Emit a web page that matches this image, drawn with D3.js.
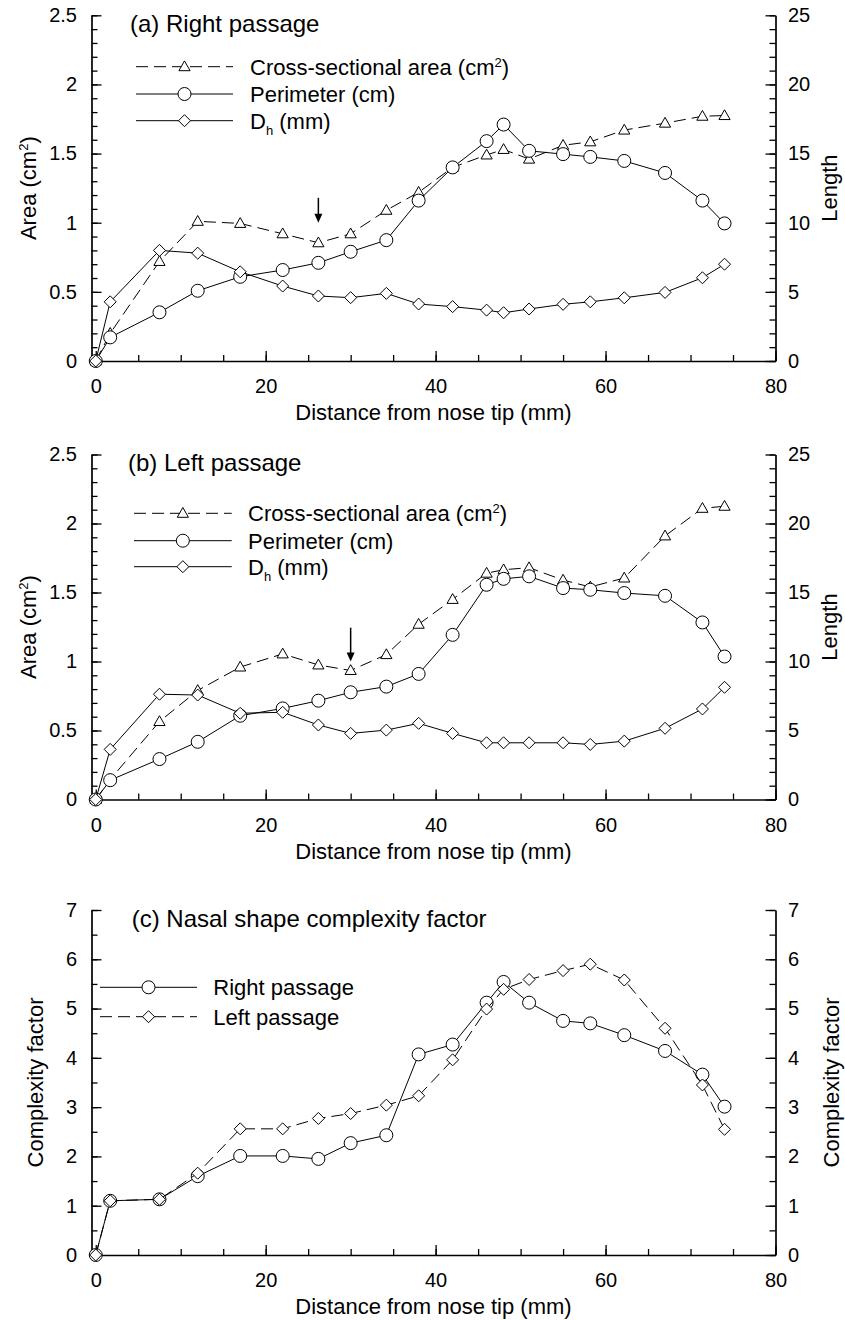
<!DOCTYPE html>
<html lang="en">
<head>
<meta charset="utf-8">
<script src="https://cdn.jsdelivr.net/npm/d3@7"></script>
<style>
    body { margin: 0; background: #fff; }
    svg text { font-family: "Liberation Sans", Arial, Helvetica, sans-serif; fill: #000; }
</style>
</head>

<body>
<div id="svg"></div>

<script>
    // distance from nose tip (mm), shared by every series
    var distance = [0, 1.7, 7.5, 12, 17, 22, 26.2, 30, 34.2, 38, 42, 46, 48, 51, 55, 58.2, 62.2, 67, 71.4, 74];

    // (a) right passage
    var rightArea = [0, 0.20, 0.72, 1.01, 0.995, 0.92, 0.855, 0.92, 1.09, 1.22, 1.40, 1.49, 1.53, 1.46, 1.56, 1.585, 1.67, 1.72, 1.77, 1.775];
    var rightPerimeter = [0, 1.71, 3.52, 5.08, 6.09, 6.58, 7.1, 7.9, 8.74, 11.6, 14.0, 15.9, 17.1, 15.2, 14.96, 14.76, 14.47, 13.6, 11.6, 9.95];
    var rightDh = [0, 4.28, 8.0, 7.8, 6.45, 5.42, 4.7, 4.58, 4.89, 4.12, 3.93, 3.68, 3.49, 3.76, 4.1, 4.28, 4.57, 4.96, 6.02, 7.0];

    // (b) left passage
    var leftArea = [0, 0.145, 0.565, 0.79, 0.96, 1.055, 0.975, 0.935, 1.05, 1.27, 1.45, 1.64, 1.665, 1.68, 1.59, 1.54, 1.605, 1.91, 2.11, 2.125];
    var leftPerimeter = [0, 1.4, 2.93, 4.18, 6.07, 6.6, 7.16, 7.77, 8.18, 9.1, 11.93, 15.56, 15.99, 16.17, 15.32, 15.2, 14.96, 14.76, 12.83, 10.36];
    var leftDh = [0, 3.63, 7.63, 7.57, 6.25, 6.32, 5.4, 4.79, 5.03, 5.52, 4.79, 4.11, 4.11, 4.11, 4.11, 3.99, 4.23, 5.16, 6.56, 8.13];

    // (c) complexity factor
    var rightComplexity = [0, 1.10, 1.13, 1.60, 2.01, 2.01, 1.95, 2.27, 2.43, 4.07, 4.27, 5.12, 5.54, 5.12, 4.75, 4.70, 4.46, 4.14, 3.66, 3.01];
    var leftComplexity = [0, 1.10, 1.13, 1.66, 2.56, 2.56, 2.77, 2.87, 3.04, 3.23, 3.96, 4.99, 5.39, 5.59, 5.77, 5.90, 5.58, 4.60, 3.45, 2.55];

    // minimum-area arrows: [distance, tail, tip] in area units
    var rightArrow = [26.2, 1.18, 1.0];
    var leftArrow = [30, 1.245, 1.0];

    // ticks
    var xTicks = [0, 20, 40, 60, 80];
    var xMinorTicks = d3.range(0, 81, 5);
    var areaTicks = [0, 0.5, 1, 1.5, 2, 2.5];
    var areaMinorTicks = d3.range(0, 2.51, 0.1);
    var lengthTicks = [0, 5, 10, 15, 20, 25];
    var lengthMinorTicks = d3.range(0, 26, 1);
    var complexityTicks = [0, 1, 2, 3, 4, 5, 6, 7];
    var complexityMinorTicks = d3.range(0, 7.01, 0.5);

    var areaLabel = [["Cross-sectional area (cm"], ["2", "sup"], [")"]];
    var perimeterLabel = [["Perimeter (cm)"]];
    var dhLabel = [["D"], ["h", "sub"], [" (mm)"]];

    var width = 845, height = 1320;
    var axisLeftX = 91.5, axisRightX = 775.5;

    var svg = d3.select("#svg").append("svg")
        .attr("width", width)
        .attr("height", height);

    var x = d3.scaleLinear().domain([-0.5, 80]).range([axisLeftX, axisRightX]);

    var symbols = {
        circle: d3.symbol(d3.symbolCircle, Math.PI * 6.5 * 6.5)(),
        triangle: "M0,-5.8L5.6,4L-5.6,4Z",
        diamond: "M0,-6L6,0L0,6L-6,0Z"
    };
    var dash = "12,6";

    // text with super/subscript parts
    function addRich(text, parts) {
        var shift = 0;
        parts.forEach(function(p) {
            var target = p[1] == "sup" ? -8 : p[1] == "sub" ? 6 : 0;
            var t = text.append("tspan").attr("dy", target - shift).text(p[0]);
            if (p[1]) t.attr("font-size", 13);
            shift = target;
        });
        return text;
    }

    function styleAxis(sel, size) {
        sel.attr("font-size", size).attr("font-family", null);
        sel.select(".domain").attr("stroke-width", 1.7);
        sel.selectAll(".tick line").attr("stroke-width", 1.3);
    }

    function minor(s) {
        s.select(".domain").remove();
        s.selectAll("line").attr("stroke-width", 1.3);
    }

    function drawPanel(p) {
        var g = svg.append("g");
        var yL = d3.scaleLinear().domain([0, p.leftMax]).range([p.bottom, p.top]);
        var yR = d3.scaleLinear().domain([0, p.rightMax]).range([p.bottom, p.top]);

        // minor ticks
        g.append("g").attr("transform", "translate(0," + p.bottom + ")")
            .call(d3.axisBottom(x).tickValues(xMinorTicks).tickSize(-6).tickFormat(""))
            .call(minor);
        g.append("g").attr("transform", "translate(" + axisLeftX + ",0)")
            .call(d3.axisLeft(yL).tickValues(p.leftMinor).tickSize(-6).tickFormat(""))
            .call(minor);
        g.append("g").attr("transform", "translate(" + axisRightX + ",0)")
            .call(d3.axisRight(yR).tickValues(p.rightMinor).tickSize(-6).tickFormat(""))
            .call(minor);

        // major axes
        g.append("g").attr("transform", "translate(0," + p.bottom + ")")
            .call(d3.axisBottom(x).tickValues(xTicks).tickSize(-10).tickSizeOuter(0).tickPadding(18).tickFormat(d3.format("d")))
            .call(styleAxis, 20);
        g.append("g").attr("transform", "translate(" + axisLeftX + ",0)")
            .call(d3.axisLeft(yL).tickValues(p.leftTicks).tickSize(-10).tickSizeOuter(0).tickPadding(14.5).tickFormat(d3.format("")))
            .call(styleAxis, 20);
        g.append("g").attr("transform", "translate(" + axisRightX + ",0)")
            .call(d3.axisRight(yR).tickValues(p.rightTicks).tickSize(-10).tickSizeOuter(0).tickPadding(12.5).tickFormat(d3.format("")))
            .call(styleAxis, 20);

        // axis titles
        g.append("text")
            .attr("x", (axisLeftX + axisRightX) / 2)
            .attr("y", p.bottom + 59)
            .attr("text-anchor", "middle")
            .attr("font-size", 22)
            .text("Distance from nose tip (mm)");
        var mid = (p.top + p.bottom) / 2;
        addRich(g.append("text")
            .attr("transform", "translate(" + p.leftTitleX + "," + mid + ") rotate(-90)")
            .attr("text-anchor", "middle")
            .attr("font-size", 22), p.leftTitle);
        addRich(g.append("text")
            .attr("transform", "translate(" + p.rightTitleX + "," + mid + ") rotate(-90)")
            .attr("text-anchor", "middle")
            .attr("font-size", 22), p.rightTitle);

        // panel title
        g.append("text")
            .attr("x", p.titleX)
            .attr("y", p.top + 16.5)
            .attr("font-size", 24)
            .text(p.title);

        // series
        p.series.forEach(function(s) {
            var y = s.axis == "left" ? yL : yR;
            var line = d3.line()
                .x(function(d, i) { return x(distance[i]); })
                .y(function(d) { return y(d); });
            g.append("path")
                .datum(s.values)
                .attr("d", line)
                .attr("fill", "none")
                .attr("stroke", "#000")
                .attr("stroke-width", 1)
                .attr("stroke-dasharray", s.dashed ? dash : null);
            g.selectAll(null)
                .data(s.values)
                .enter().append("path")
                .attr("d", symbols[s.symbol])
                .attr("transform", function(d, i) { return "translate(" + x(distance[i]) + "," + y(d) + ")"; })
                .attr("fill", "#fff")
                .attr("stroke", "#000")
                .attr("stroke-width", 1);
        });

        // legend
        p.series.forEach(function(s, i) {
            var ly = p.legendY[i];
            var lg = g.append("g");
            lg.append("line")
                .attr("x1", p.legendX[0]).attr("x2", p.legendX[1])
                .attr("y1", ly).attr("y2", ly)
                .attr("stroke", "#000")
                .attr("stroke-width", 1)
                .attr("stroke-dasharray", s.dashed ? dash : null);
            lg.append("path")
                .attr("d", symbols[s.symbol])
                .attr("transform", "translate(" + (p.legendX[0] + p.legendX[1]) / 2 + "," + ly + ")")
                .attr("fill", "#fff")
                .attr("stroke", "#000");
            addRich(lg.append("text")
                .attr("x", p.legendX[2])
                .attr("y", ly + 8)
                .attr("font-size", 22), s.label);
        });

        // arrow pointing at the minimum area
        if (p.arrow) {
            var ax = x(p.arrow[0]), y0 = yL(p.arrow[1]), y1 = yL(p.arrow[2]);
            g.append("line")
                .attr("x1", ax).attr("x2", ax)
                .attr("y1", y0).attr("y2", y1 - 8)
                .attr("stroke", "#000")
                .attr("stroke-width", 1.5);
            g.append("path")
                .attr("d", "M" + (ax - 4) + "," + (y1 - 9) + "L" + (ax + 4) + "," + (y1 - 9) + "L" + ax + "," + y1 + "Z")
                .attr("fill", "#000");
        }
    }

    drawPanel({
        top: 15.3, bottom: 361,
        leftMax: 2.5, leftTicks: areaTicks, leftMinor: areaMinorTicks,
        rightMax: 25, rightTicks: lengthTicks, rightMinor: lengthMinorTicks,
        leftTitle: [["Area (cm"], ["2", "sup"], [")"]], leftTitleX: 35.5,
        rightTitle: [["Length"]], rightTitleX: 837,
        title: "(a) Right passage", titleX: 130,
        legendY: [66.7, 94, 120.7], legendX: [136, 233, 250],
        arrow: rightArrow,
        series: [
            {values: rightArea, axis: "left", symbol: "triangle", dashed: true, label: areaLabel},
            {values: rightPerimeter, axis: "right", symbol: "circle", label: perimeterLabel},
            {values: rightDh, axis: "right", symbol: "diamond", label: dhLabel}
        ]
    });

    drawPanel({
        top: 454.5, bottom: 799.5,
        leftMax: 2.5, leftTicks: areaTicks, leftMinor: areaMinorTicks,
        rightMax: 25, rightTicks: lengthTicks, rightMinor: lengthMinorTicks,
        leftTitle: [["Area (cm"], ["2", "sup"], [")"]], leftTitleX: 35.5,
        rightTitle: [["Length"]], rightTitleX: 837,
        title: "(b) Left passage", titleX: 128,
        legendY: [513.3, 540.7, 566.7], legendX: [134, 231.7, 248],
        arrow: leftArrow,
        series: [
            {values: leftArea, axis: "left", symbol: "triangle", dashed: true, label: areaLabel},
            {values: leftPerimeter, axis: "right", symbol: "circle", label: perimeterLabel},
            {values: leftDh, axis: "right", symbol: "diamond", label: dhLabel}
        ]
    });

    drawPanel({
        top: 910, bottom: 1255,
        leftMax: 7, leftTicks: complexityTicks, leftMinor: complexityMinorTicks,
        rightMax: 7, rightTicks: complexityTicks, rightMinor: complexityMinorTicks,
        leftTitle: [["Complexity factor"]], leftTitleX: 43,
        rightTitle: [["Complexity factor"]], rightTitleX: 839,
        title: "(c) Nasal shape complexity factor", titleX: 131.7,
        legendY: [987.3, 1016.7], legendX: [100, 197, 213.3],
        series: [
            {values: rightComplexity, axis: "left", symbol: "circle", label: [["Right passage"]]},
            {values: leftComplexity, axis: "left", symbol: "diamond", dashed: true, label: [["Left passage"]]}
        ]
    });
</script>
</body>
</html>
